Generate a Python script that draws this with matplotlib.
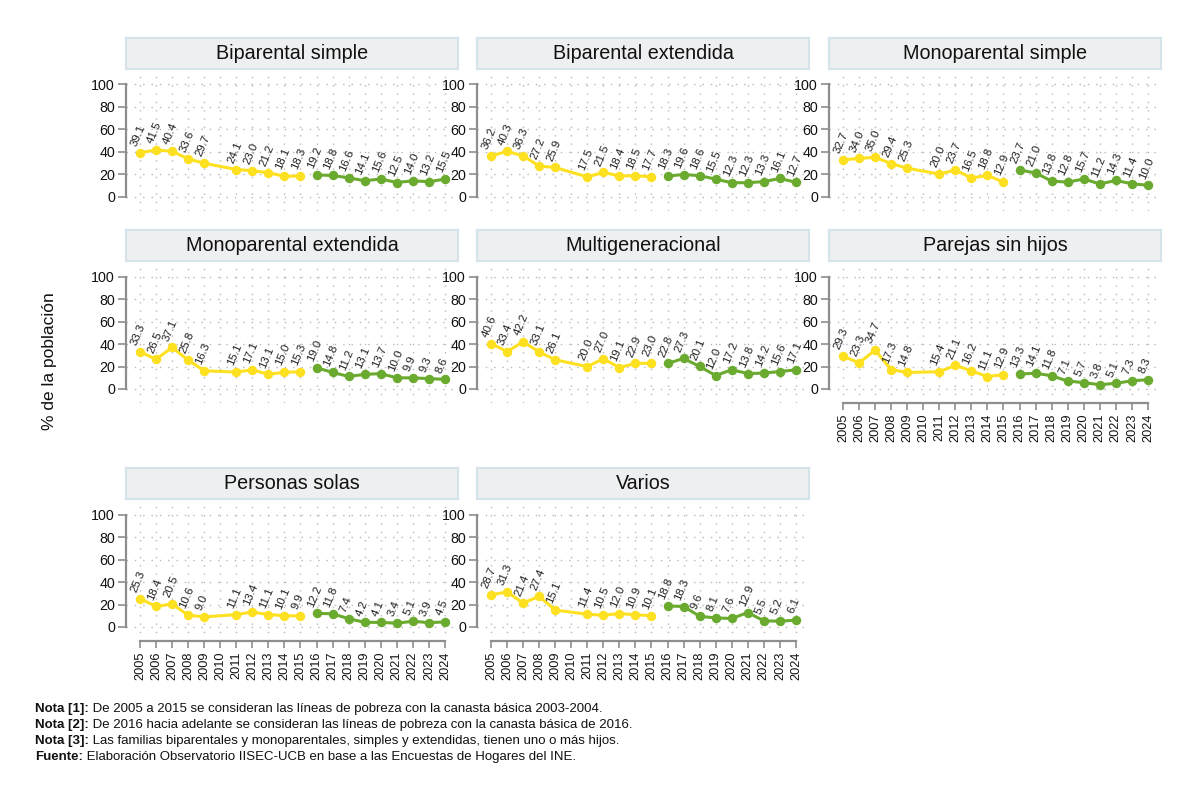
import numpy as np
import matplotlib
matplotlib.use("Agg")
import matplotlib.pyplot as plt
from matplotlib import font_manager

# ---------------- data ----------------
years_old = [2005, 2006, 2007, 2008, 2009, 2011, 2012, 2013, 2014, 2015]
years_new = [2016, 2017, 2018, 2019, 2020, 2021, 2022, 2023, 2024]
year_ticks = list(range(2005, 2025))

panel_titles = ["Biparental simple", "Biparental extendida", "Monoparental simple",
                "Monoparental extendida", "Multigeneracional", "Parejas sin hijos",
                "Personas solas", "Varios"]

biparental_simple_old = [39.1, 41.5, 40.4, 33.6, 29.7, 24.1, 23.0, 21.2, 18.1, 18.3]
biparental_simple_new = [19.2, 18.8, 16.6, 14.1, 15.6, 12.5, 14.0, 13.2, 15.5]
biparental_ext_old = [36.2, 40.3, 36.3, 27.2, 25.9, 17.5, 21.5, 18.4, 18.5, 17.7]
biparental_ext_new = [18.3, 19.6, 18.6, 15.5, 12.3, 12.3, 13.3, 16.1, 12.7]
monoparental_simple_old = [32.7, 34.0, 35.0, 29.4, 25.3, 20.0, 23.7, 16.5, 18.8, 12.9]
monoparental_simple_new = [23.7, 21.0, 13.8, 12.8, 15.7, 11.2, 14.3, 11.4, 10.0]
monoparental_ext_old = [33.3, 26.5, 37.1, 25.8, 16.3, 15.1, 17.1, 13.1, 15.0, 15.3]
monoparental_ext_new = [19.0, 14.8, 11.2, 13.1, 13.7, 10.0, 9.9, 9.3, 8.6]
multigeneracional_old = [40.6, 33.4, 42.2, 33.1, 26.1, 20.0, 27.0, 19.1, 22.9, 23.0]
multigeneracional_new = [22.8, 27.3, 20.1, 12.0, 17.2, 13.8, 14.2, 15.6, 17.1]
parejas_old = [29.3, 23.3, 34.7, 17.3, 14.8, 15.4, 21.1, 16.2, 11.1, 12.9]
parejas_new = [13.3, 14.1, 11.8, 7.1, 5.7, 3.8, 5.1, 7.3, 8.3]
solas_old = [25.3, 18.4, 20.5, 10.6, 9.0, 11.1, 13.4, 11.1, 10.1, 9.9]
solas_new = [12.2, 11.8, 7.4, 4.2, 4.1, 3.4, 5.1, 3.9, 4.5]
varios_old = [28.7, 31.3, 21.4, 27.4, 15.1, 11.4, 10.5, 12.0, 10.9, 10.1]
varios_new = [18.8, 18.3, 9.6, 8.1, 7.6, 12.9, 5.5, 5.2, 6.1]

series_old = [biparental_simple_old, biparental_ext_old, monoparental_simple_old,
              monoparental_ext_old, multigeneracional_old, parejas_old, solas_old, varios_old]
series_new = [biparental_simple_new, biparental_ext_new, monoparental_simple_new,
              monoparental_ext_new, multigeneracional_new, parejas_new, solas_new, varios_new]

y_ticks = [0, 20, 40, 60, 80, 100]
y_label = "% de la población"
notes = [("Nota [1]:", " De 2005 a 2015 se consideran las líneas de pobreza con la canasta básica 2003-2004."),
         ("Nota [2]:", " De 2016 hacia adelante se consideran las líneas de pobreza con la canasta básica de 2016."),
         ("Nota [3]:", " Las familias biparentales y monoparentales, simples y extendidas, tienen uno o más hijos."),
         ("Fuente:", " Elaboración Observatorio IISEC-UCB en base a las Encuestas de Hogares del INE.")]

# ---------------- style ----------------
names = {f.name for f in font_manager.fontManager.ttflist}
NARROW = "Liberation Sans Narrow" in names
REG = "Liberation Sans"
NAR = "Liberation Sans Narrow" if NARROW else "Liberation Sans"
k = 1.0 if NARROW else 0.86

YELLOW = "#FDE020"
GREEN = "#6AAA2E"
GRID = "#B8B8B8"
AXC = "#8E8E8E"

W, H = 1200, 801
fig = plt.figure(figsize=(W / 100, H / 100), dpi=100)
fig.patch.set_facecolor("white")

col_left = [126, 477, 829]
col_w = 332
rows = [(74, 210.5), (266, 402.5), (504, 640.5)]
strip_h = 31
strip_gap = 5

px_per_year = 16.05
x0_off = 14
xlim = (2005 - x0_off / px_per_year, 2005 + (col_w - x0_off) / px_per_year)

def ylim_for(top, bottom, zero_px, hundred_px):
    ppu = (zero_px - hundred_px) / 100.0
    return (-(bottom - zero_px) / ppu, 100 + (hundred_px - top) / ppu)

row_ref = [(196.5, 84.5), (389, 277), (627, 515)]

positions = [(0, 0), (0, 1), (0, 2), (1, 0), (1, 1), (1, 2), (2, 0), (2, 1)]
bottom_axis = {5, 6, 7}

def to_fig(x, y, w, h):
    return [x / W, 1 - (y + h) / H, w / W, h / H]

for i, (r, c) in enumerate(positions):
    top, bottom = rows[r]
    left = col_left[c]
    ax = fig.add_axes(to_fig(left, top, col_w, bottom - top))
    ax.set_xlim(*xlim)
    ax.set_ylim(*ylim_for(top, bottom, *row_ref[r]))
    ax.set_facecolor("white")
    for s in ["top", "right"]:
        ax.spines[s].set_visible(False)
    ax.spines["left"].set_bounds(0, 100)
    ax.spines["left"].set_color(AXC)
    ax.spines["left"].set_linewidth(1.6)
    ax.set_yticks(y_ticks)
    ax.set_yticklabels([str(v) for v in y_ticks], family=NAR, fontsize=11.9 * k, color="#111111")
    ax.tick_params(axis="y", length=6, width=1.2, color=AXC, pad=2)
    ax.set_xticks(year_ticks)
    if i in bottom_axis:
        ax.spines["bottom"].set_bounds(2005, 2024)
        ax.spines["bottom"].set_color(AXC)
        ax.spines["bottom"].set_linewidth(1.6)
        ax.set_xticklabels([str(y) for y in year_ticks], rotation=90, family=NAR,
                           fontsize=10.7 * k, color="#111111")
        ax.tick_params(axis="x", length=5, width=1.2, color=AXC, pad=3)
    else:
        ax.spines["bottom"].set_visible(False)
        ax.tick_params(axis="x", length=0, labelbottom=False)
    ax.grid(True, which="major", axis="both", color=GRID, linestyle=(0, (1, 5)), linewidth=1.0)
    ax.set_axisbelow(True)

    ax.plot(years_old, series_old[i], color=YELLOW, lw=2.2, marker="o", ms=6.8,
            markeredgewidth=0, zorder=3, clip_on=False)
    ax.plot(years_new, series_new[i], color=GREEN, lw=2.2, marker="o", ms=6.8,
            markeredgewidth=0, zorder=3, clip_on=False)
    for xs, ys in ((years_old, series_old[i]), (years_new, series_new[i])):
        for xv, yv in zip(xs, ys):
            ax.annotate(f"{yv:.1f}", (xv, yv), xytext=(-4.2, 5.0), textcoords="offset points",
                        rotation=67, rotation_mode="anchor", ha="left", va="center",
                        family=NAR, fontsize=9.6 * k, color="#222222", zorder=4)

    sax = fig.add_axes(to_fig(left, top - strip_gap - strip_h, col_w, strip_h))
    sax.set_xticks([]); sax.set_yticks([])
    sax.set_facecolor("#EEEFF0")
    for s in sax.spines.values():
        s.set_color("#D5E3EA")
        s.set_linewidth(1.5)
    sax.text(0.5, 0.5, panel_titles[i], ha="center", va="center", family=REG,
             fontsize=14.2, color="#111111", transform=sax.transAxes)

fig.text(50 / W, 1 - 361 / H, y_label, rotation=90, ha="center", va="center",
         family=NAR, fontsize=14.5 * k, color="#111111")

renderer = fig.canvas.get_renderer()
note_y = [709, 725, 741, 757]
for (b, rtxt), yy in zip(notes, note_y):
    tb = fig.text(35 / W, 1 - yy / H, b, ha="left", va="center", family=NAR,
                  fontweight="bold", fontsize=11.1 * k, color="#111111")
    bb = tb.get_window_extent(renderer=renderer)
    fig.text(bb.x1 / W, 1 - yy / H, rtxt, ha="left", va="center", family=NAR,
             fontsize=11.1 * k, color="#111111")

fig.savefig("out.png", dpi=100, facecolor="white")
